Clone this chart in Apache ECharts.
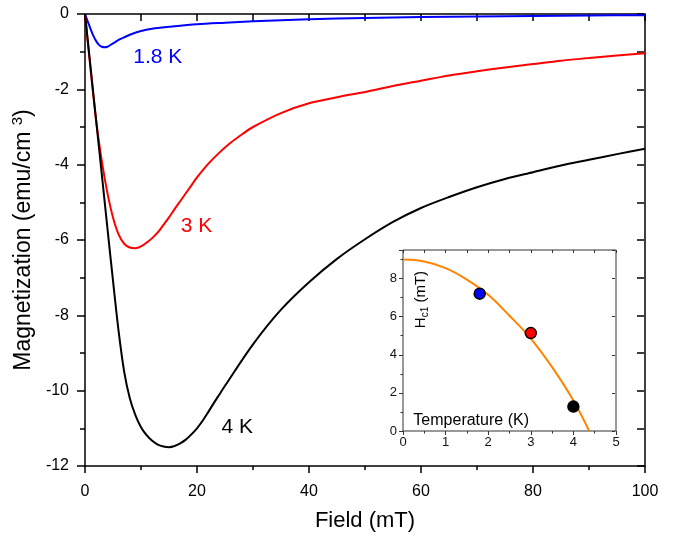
<!DOCTYPE html>
<html>
<head>
<meta charset="utf-8">
<script src="https://cdn.jsdelivr.net/npm/echarts@6/dist/echarts.min.js"></script>
<style>html,body{margin:0;padding:0;background:#fff}#c{width:681px;height:537px}</style>
</head>
<body>
<div id="c"></div>
<script>
// ---- Main panel data: Field (mT) vs Magnetization (emu/cm^3)
const field18 = [0,0.5,1,1.5,2,2.5,3,3.5,4,5,6,7,8,10,12,15,20,25,30,40,50,60,70,80,90,100];
const mag18   = [0,-0.2,-0.4,-0.58,-0.72,-0.82,-0.87,-0.885,-0.87,-0.78,-0.69,-0.62,-0.55,-0.45,-0.39,-0.34,-0.27,-0.23,-0.195,-0.14,-0.106,-0.08,-0.065,-0.05,-0.04,-0.03];

const field3 = [0,1,2,3,4,5,6,7,8,9,10,11,12,13,14,15,16,17,18,19,20,22,24,26,28,30,35,40,45,50,55,60,65,70,75,80,85,90,95,100];
const mag3   = [0,-1.48,-2.85,-3.9,-4.75,-5.4,-5.85,-6.1,-6.2,-6.22,-6.17,-6.07,-5.95,-5.8,-5.6,-5.4,-5.18,-4.97,-4.76,-4.55,-4.34,-3.98,-3.68,-3.42,-3.2,-3.0,-2.63,-2.37,-2.21,-2.07,-1.91,-1.77,-1.63,-1.52,-1.42,-1.33,-1.24,-1.17,-1.1,-1.04];

const field4 = [0,1,2,3,4,5,6,7,8,9,10,11,12,13,14,15,16,17,18,19,20,21,22,23,24,25,30,35,40,45,50,55,60,65,70,75,80,85,90,95,100];
const mag4   = [0,-1.42,-2.84,-4.26,-5.68,-7.08,-8.42,-9.5,-10.2,-10.65,-10.97,-11.18,-11.33,-11.43,-11.48,-11.5,-11.47,-11.4,-11.3,-11.16,-11.0,-10.8,-10.57,-10.33,-10.1,-9.87,-8.77,-7.85,-7.12,-6.5,-5.98,-5.52,-5.15,-4.86,-4.6,-4.38,-4.2,-4.02,-3.87,-3.72,-3.58];

// ---- Inset data: Temperature (K) vs Hc1 (mT)
const insetT   = [1.8, 3.0, 4.0];
const insetHc1 = [7.21, 5.14, 1.28];
const insetColors = ['#0000ff', '#ff0000', '#000000'];
const fitT   = [0,0.5,1,1.5,2,2.5,3,3.5,4,4.37];
const fitHc1 = [9.0,8.9,8.55,7.95,7.15,6.05,4.85,3.35,1.6,0];

// ---- Curve annotations (data coordinates)
const labelTexts = ['1.8 K', '3 K', '4 K'];
const labelX = [13.0, 19.9, 27.2];
const labelY = [-1.15, -5.64, -10.96];
const colors = ['#0000ff', '#ff0000', '#000000'];

const FONT = '"Liberation Sans", Arial, sans-serif';
const zip = (a, b) => a.map((v, i) => [v, b[i]]);

const chart = echarts.init(document.getElementById('c'), null, {renderer: 'canvas'});

// visible axis with outward ticks
function axis(gridIndex, pos, min, max, interval, color, lw, tickLen, minorLen, label) {
  return {
    type: 'value', gridIndex, position: pos, min, max, interval,
    axisLine: {show: false, onZero: false},
    axisTick: {show: true, inside: false, length: tickLen, lineStyle: {color, width: lw}},
    minorTick: {show: minorLen > 0, splitNumber: 2, length: minorLen, lineStyle: {color, width: lw}},
    axisLabel: label || {show: false},
    splitLine: {show: false}
  };
}
function hidden(gridIndex) {
  return {type: 'value', gridIndex, show: false, min: 0, max: 1};
}

const mainX = axis(0, 'bottom', 0, 100, 20, '#000', 1.5, 7, 4,
  {fontFamily: FONT, fontSize: 16, color: '#000', margin: 18});
mainX.name = 'Field (mT)';
mainX.nameLocation = 'middle';
mainX.nameGap = 44;
mainX.nameTextStyle = {fontFamily: FONT, fontSize: 22, color: '#000'};

const mainY = axis(0, 'left', -12, 0, 2, '#000', 1.5, 8, 5,
  {fontFamily: FONT, fontSize: 16, color: '#000', margin: 16});
mainY.name = '{a|Magnetization (emu/cm }{s|3}{a|)}';
mainY.nameLocation = 'middle';
mainY.nameGap = 35;
mainY.nameRotate = 90;
mainY.nameTextStyle = {
  fontFamily: FONT, color: '#000',
  rich: {
    a: {fontFamily: FONT, fontSize: 23, color: '#000', lineHeight: 27},
    s: {fontFamily: FONT, fontSize: 15, color: '#000', verticalAlign: 'top', lineHeight: 15}
  }
};

const insetLabel = {fontFamily: FONT, fontSize: 13, color: '#111', margin: 5};
const insetYLabel = {fontFamily: FONT, fontSize: 13, color: '#111', margin: 6, showMaxLabel: false};

const option = {
  animation: false,
  backgroundColor: '#fff',
  grid: [
    {left: 85, right: 36, top: 14, bottom: 71, show: true, borderColor: '#000', borderWidth: 1.5, backgroundColor: 'transparent'},
    {left: 403, right: 65, top: 250, bottom: 106, show: true, borderColor: '#333', borderWidth: 1, backgroundColor: 'transparent'},
    // thin strips that carry the mirrored tick marks (top & right edges)
    {left: 85, right: 36, top: 13, height: 1},
    {left: 644, width: 1, top: 14, bottom: 71},
    {left: 403, right: 65, top: 249, height: 1},
    {left: 615, width: 1, top: 250, bottom: 106}
  ],
  xAxis: [
    mainX,
    axis(1, 'bottom', 0, 5, 1, '#333', 1, 4, 2.5, insetLabel),
    axis(2, 'bottom', 0, 100, 10, '#000', 1.5, 7, 0),
    hidden(3),
    axis(4, 'bottom', 0, 5, 0.5, '#333', 1, 3, 0),
    hidden(5)
  ],
  yAxis: [
    mainY,
    axis(1, 'left', 0, 9.5, 2, '#333', 1, 4, 2.5, insetYLabel),
    hidden(2),
    axis(3, 'left', -12, 0, 1, '#000', 1.5, 7, 0),
    hidden(4),
    axis(5, 'left', 0, 9.5, 2, '#333', 1, 3, 0)
  ],
  series: [
    {
      type: 'line', xAxisIndex: 0, yAxisIndex: 0, data: zip(field18, mag18), smooth: 0.3,
      showSymbol: false, lineStyle: {color: colors[0], width: 2}, z: 3,
      markPoint: {symbol: 'circle', symbolSize: 0, silent: true, data: [{coord: [labelX[0], labelY[0]]}],
        label: {show: true, position: 'inside', formatter: labelTexts[0], fontFamily: FONT, fontSize: 21, color: colors[0]}}
    },
    {
      type: 'line', xAxisIndex: 0, yAxisIndex: 0, data: zip(field3, mag3), smooth: 0.3,
      showSymbol: false, lineStyle: {color: colors[1], width: 2}, z: 3,
      markPoint: {symbol: 'circle', symbolSize: 0, silent: true, data: [{coord: [labelX[1], labelY[1]]}],
        label: {show: true, position: 'inside', formatter: labelTexts[1], fontFamily: FONT, fontSize: 21, color: colors[1]}}
    },
    {
      type: 'line', xAxisIndex: 0, yAxisIndex: 0, data: zip(field4, mag4), smooth: 0.3,
      showSymbol: false, lineStyle: {color: colors[2], width: 2}, z: 3,
      markPoint: {symbol: 'circle', symbolSize: 0, silent: true, data: [{coord: [labelX[2], labelY[2]]}],
        label: {show: true, position: 'inside', formatter: labelTexts[2], fontFamily: FONT, fontSize: 21, color: colors[2]}}
    },
    {
      type: 'line', xAxisIndex: 1, yAxisIndex: 1, data: zip(fitT, fitHc1), smooth: 0.4,
      showSymbol: false, lineStyle: {color: '#ff8400', width: 2}, z: 6
    },
    {
      type: 'scatter', xAxisIndex: 1, yAxisIndex: 1,
      data: insetT.map((t, i) => ({value: [t, insetHc1[i]], itemStyle: {color: insetColors[i]}})),
      symbolSize: 11, itemStyle: {borderColor: '#000', borderWidth: 1.5, opacity: 1}, z: 7
    }
  ]
};
chart.setOption(option);

// inset axis titles, anchored via inset's data coordinates
const tPos = chart.convertToPixel({xAxisIndex: 1, yAxisIndex: 1}, [1.6, 0.55]);
const hPos = chart.convertToPixel({xAxisIndex: 1, yAxisIndex: 1}, [0.43, 6.9]);
chart.setOption({
  graphic: [
    {type: 'text', x: tPos[0], y: tPos[1], z: 20,
     style: {text: 'Temperature (K)', font: '16px ' + FONT, fill: '#000', align: 'center', verticalAlign: 'middle'}},
    {type: 'text', x: hPos[0], y: hPos[1], rotation: Math.PI / 2, z: 20,
     style: {text: '{a|H}{b|c1}{a| (mT)}', align: 'center', verticalAlign: 'middle',
       rich: {a: {font: '15px ' + FONT, fill: '#000', lineHeight: 18},
              b: {font: '10px ' + FONT, fill: '#000', verticalAlign: 'bottom', lineHeight: 12}}}}
  ]
});
</script>
</body>
</html>
